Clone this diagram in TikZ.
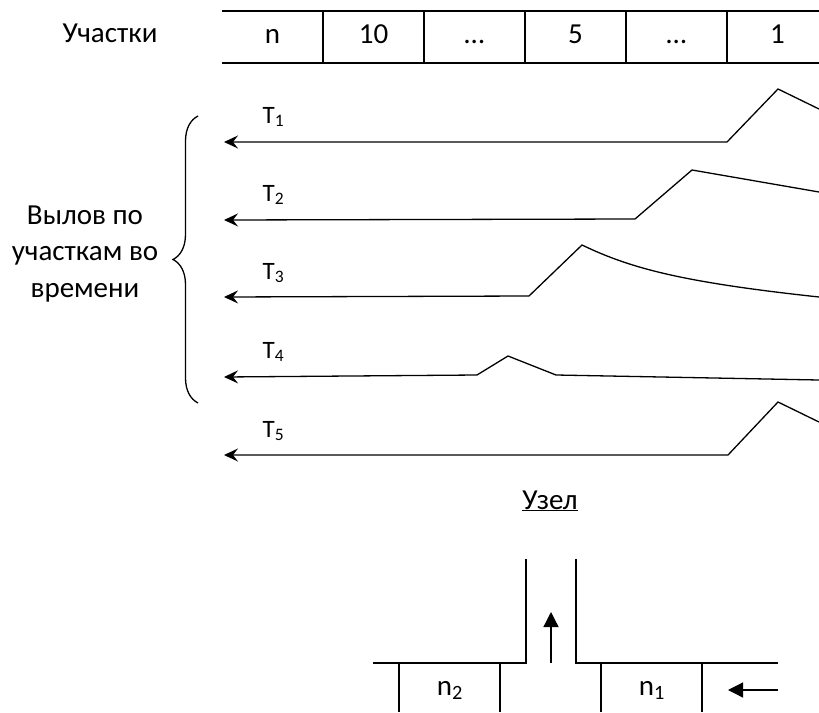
\documentclass[tikz,border=0pt]{standalone}
\usepackage{fontspec}
\setmainfont{Carlito}
\usetikzlibrary{arrows.meta, decorations.pathreplacing}

\begin{document}
\begin{tikzpicture}[x=1pt, y=-1pt, line width=1.3pt,
    txt/.style={font=\fontsize{29}{36.5}\selectfont, inner sep=0pt},
    tlabel/.style={font=\fontsize{25}{30}\selectfont, anchor=base west, inner sep=0pt},
    flow/.style={-{Stealth[length=14pt, width=13pt, inset=5pt]}},
    move/.style={-{Triangle[length=15pt, width=15pt]}}]
  \useasboundingbox (0,0) rectangle (819,712);

  % шкала участков: n ... 1
  \node[txt, anchor=base] (uch) at (110,42.5) {Участки};
  \draw (222,11) -- (819,11) (222,63) -- (819,63);
  \foreach \x in {323,424,525,626,727}
    \draw (\x,11) -- (\x,63);
  \foreach \x/\l [count=\i] in {272.5/n, 373.5/10, 474.5/…, 575.5/5, 676.5/…, 777.5/1}
    \node[txt, anchor=base] (cell\i) at (\x,43.5) {\l};

  % вылов во времени
  \node[txt, align=center] (vylov) at (85,254) {Вылов по\\участкам во\\времени};
  \draw[decorate, decoration={brace, amplitude=25pt}] (198,403) -- (198,116);

  \foreach \y [count=\i] in {123,201,279,358,437}
    \node[tlabel] (tlbl\i) at (262,\y) {T\textsubscript{\i}};

  \draw[flow] (819,109) -- (778,89) -- (727,142) -- (224,142);
  \draw[flow] (819,192) -- (692,170) -- (635,219) -- (224,220);
  \draw[flow] (819,297) .. controls (680,282) and (630,268) .. (582,245)
    -- (529,296) -- (224,297);
  \draw[flow] (819,380) -- (556,375) -- (508,356) -- (477,375) -- (224,377);
  \draw[flow] (819,422) -- (778,402) -- (728,455) -- (224,455);

  % узел
  \node[txt, anchor=base] (uzel) at (550,509) {\underline{Узел}};
  \draw (373,663) -- (526,663) -- (526,559);
  \draw (576,559) -- (576,663) -- (778,663);
  \foreach \x in {399,500,601,702}
    \draw (\x,663) -- (\x,712);
  \node[txt, anchor=base] (nlbl2) at (450,695) {n\textsubscript{2}};
  \node[txt, anchor=base] (nlbl1) at (652,695) {n\textsubscript{1}};
  \draw[move] (551,663) -- (551,612);
  \draw[move] (778,690) -- (728,690);
\end{tikzpicture}
\end{document}
